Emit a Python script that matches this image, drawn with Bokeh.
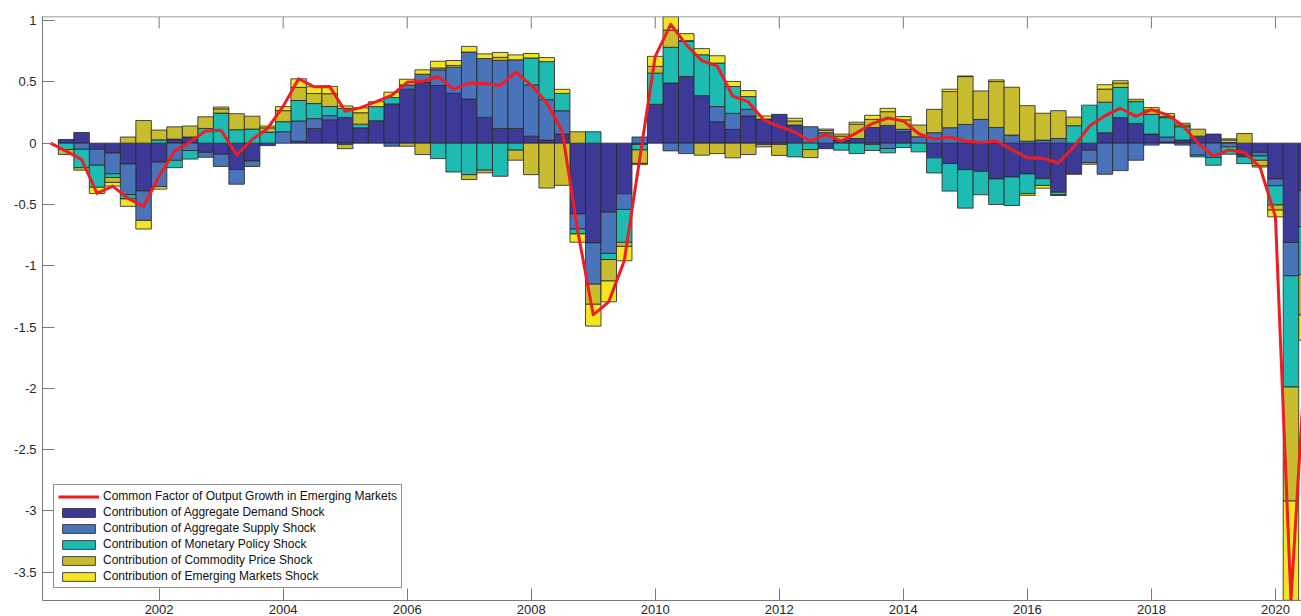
import numpy as np
from bokeh.plotting import figure
from bokeh.models import Range1d, FixedTicker, LinearAxis, Legend, LegendItem, Span
from bokeh.embed import file_html
from bokeh.resources import INLINE

# quarterly observations, 2000Q1 .. 2020Q2 (positioned at year + q/4)
n_quarters = 82
first_period = 2000.25
periods = [first_period + 0.25 * i for i in range(n_quarters)]

demand = [0, 0.03, 0.087, -0.05, -0.08, -0.17, -0.39, -0.155, 0.033, 0.05,
          -0.075, -0.09, -0.215, -0.145, -0.02, 0, 0.016, 0.12, 0.19, 0.21,
          0.125, 0.183, 0.32, 0.44, 0.495, 0.47, 0.407, 0.36, 0.21, 0.12,
          0.12, 0.057, 0.025, 0.074, -0.577, -0.814, -0.563, -0.413, -0.01, 0.317,
          0.49, 0.544, 0.388, 0.175, 0.112, 0.221, 0.197, 0.235, 0.148, 0,
          -0.045, 0.025, 0.038, 0.128, 0.145, 0.093, 0, -0.12, -0.167, -0.216,
          -0.23, -0.292, -0.276, -0.251, -0.29, -0.4, -0.254, -0.057, 0.085, 0.208,
          0.161, 0.074, 0.01, 0.025, 0.057, 0.074, 0.005, -0.098, -0.075, -0.292,
          -0.81, -0.387]
supply = [0, 0, -0.05, -0.13, -0.17, -0.25, -0.24, -0.2, -0.14, -0.06,
          -0.04, -0.1, -0.12, -0.045, 0, 0.093, 0.165, 0.08, 0.035, -0.01,
          0, 0, -0.025, 0.035, 0.068, 0.128, 0.213, 0.383, 0.48, 0.555,
          0.56, 0.418, 0.33, 0.19, -0.123, -0.336, -0.336, -0.128, 0.05, 0,
          -0.063, -0.085, 0, 0.123, 0.131, 0.055, -0.01, -0.01, 0, 0.134,
          0.085, 0, 0, -0.01, -0.044, 0.02, 0.052, 0.085, 0.126, 0.153,
          0.194, 0.128, 0.066, 0.016, 0.025, 0.038, 0, -0.101, -0.254, -0.224,
          -0.139, -0.016, 0.04, -0.016, -0.098, -0.117, -0.03, -0.014, -0.03, -0.055,
          -0.272, -0.295]
monetary = [0, -0.052, -0.15, -0.18, -0.03, -0.035, 0, 0.027, -0.06, -0.07,
            0.12, 0.245, 0.11, 0.115, 0.09, 0.082, 0.167, 0.123, 0.074, 0.074,
            0.03, 0.115, 0.052, 0, 0, -0.126, -0.235, -0.257, -0.22, -0.27,
            -0.057, 0.22, 0.31, 0.142, -0.04, 0.093, -0.05, -0.268, -0.045, 0.254,
            0.292, 0.287, 0.333, 0.355, 0.219, 0.104, 0, 0, -0.112, -0.052,
            0, -0.057, -0.085, -0.05, -0.035, -0.036, -0.071, -0.123, -0.224, -0.314,
            -0.191, -0.208, -0.232, -0.161, -0.055, -0.022, 0.142, 0.31, 0.249, 0.246,
            0.178, 0.161, 0.158, 0.109, -0.014, -0.063, -0.06, -0.055, -0.035, -0.158,
            -0.907, -0.392]
commodity = [0, -0.04, -0.02, 0, -0.04, 0.05, 0.185, 0.08, 0.1, 0.09,
             0.095, 0.035, 0.13, 0.105, 0.035, 0.09, 0.107, 0.082, 0.104, -0.035,
             0.093, 0, 0, -0.025, -0.093, 0.015, 0.014, -0.04, -0.022, 0.025,
             -0.082, -0.257, -0.366, -0.344, 0.093, -0.164, -0.175, -0.033, -0.11, 0.055,
             0.14, 0.005, -0.098, -0.085, -0.12, -0.093, -0.02, -0.09, 0.033, -0.066,
             0.02, 0.033, 0.117, 0.066, 0.112, 0.077, 0.096, 0.191, 0.295, 0.39,
             0.232, 0.374, 0.39, 0.29, 0.219, 0.227, 0.071, -0.014, 0.107, 0.036,
             0.019, 0.036, 0.011, 0.014, 0.057, 0, 0.022, 0.079, -0.045, -0.041,
             -0.93, -0.327]
em_shock = [0, 0, 0, -0.05, -0.03, -0.06, -0.07, -0.02, 0, 0,
            0, 0.015, 0, 0, 0.015, 0.033, 0.07, 0.055, 0.06, 0.02,
            0.04, 0.04, 0.044, 0.046, 0.035, 0.055, 0.04, 0.046, 0.038, 0.04,
            0.04, 0.036, 0.033, 0.033, -0.068, -0.178, -0.17, -0.117, -0.01, 0.082,
            0.11, 0.057, 0.05, 0.06, 0.041, 0.049, 0.025, 0, 0.022, 0,
            0.01, 0.016, 0.016, 0.033, 0.027, 0.027, 0, 0, 0.019, 0.005,
            0, 0.014, 0, -0.014, -0.022, -0.005, 0, 0, 0.036, 0.019,
            0, 0.019, 0.022, 0.014, 0, 0, 0.008, 0, -0.01, -0.055,
            -0.81, -0.207]
common_factor = [0, -0.065, -0.133, -0.41, -0.35, -0.45, -0.515, -0.27, -0.065, 0.01,
                 0.10, 0.105, -0.095, 0.03, 0.12, 0.30, 0.525, 0.46, 0.463, 0.26,
                 0.29, 0.338, 0.39, 0.496, 0.505, 0.542, 0.44, 0.49, 0.486, 0.47,
                 0.58, 0.474, 0.332, 0.095, -0.715, -1.40, -1.294, -0.96, -0.125, 0.708,
                 0.969, 0.803, 0.673, 0.628, 0.383, 0.336, 0.19, 0.135, 0.091, 0.016,
                 0.07, 0.017, 0.086, 0.16, 0.205, 0.181, 0.077, 0.033, 0.049, 0.018,
                 0.005, 0.016, -0.052, -0.12, -0.123, -0.162, -0.03, 0.138, 0.223, 0.285,
                 0.219, 0.274, 0.233, 0.146, 0.002, -0.106, -0.055, -0.075, -0.195, -0.6,
                 -3.73, -1.61]

series_names = ["Contribution of Aggregate Demand Shock",
                "Contribution of Aggregate Supply Shock",
                "Contribution of Monetary Policy Shock",
                "Contribution of Commodity Price Shock",
                "Contribution of Emerging Markets Shock"]
series_colors = ["#3d3996", "#4a74ba", "#1dbbb1", "#c9bd2f", "#f3e521"]
line_name = "Common Factor of Output Growth in Emerging Markets"

x_ticks = [2002, 2004, 2006, 2008, 2010, 2012, 2014, 2016, 2018, 2020]
y_ticks = [-3.5, -3, -2.5, -2, -1.5, -1, -0.5, 0, 0.5, 1]
y_tick_labels = ["-3.5", "-3", "-2.5", "-2", "-1.5", "-1", "-0.5", "0", "0.5", "1"]
x_lo, x_hi = 2000.12, 2020.42
y_lo, y_hi = -3.73, 1.033

FONT = "Liberation Sans"
AXIS_COLOR = "#7a7a7a"
TEXT_COLOR = "#262626"

p = figure(width=1301, height=616, output_backend="svg", toolbar_location=None,
           x_range=Range1d(x_lo, x_hi), y_range=Range1d(y_lo, y_hi),
           min_border_left=42, min_border_right=0, min_border_top=16, min_border_bottom=0,
           x_axis_location=None, y_axis_location=None)
p.grid.visible = False
p.outline_line_color = None
p.background_fill_color = "white"

x = np.array(periods)
pos_base = np.zeros(n_quarters)
neg_base = np.zeros(n_quarters)
legend_renderers = []
for vals, color in zip([demand, supply, monetary, commodity, em_shock], series_colors):
    v = np.array(vals, dtype=float)
    pos = np.where(v > 0, v, 0.0)
    neg = np.where(v < 0, v, 0.0)
    mp = pos > 0
    mn = neg < 0
    rp = p.vbar(x=x[mp], width=0.25, bottom=pos_base[mp], top=(pos_base + pos)[mp],
                fill_color=color, line_color="#2a2a2a", line_width=1, line_alpha=0.85)
    p.vbar(x=x[mn], width=0.25, top=neg_base[mn], bottom=(neg_base + neg)[mn],
           fill_color=color, line_color="#2a2a2a", line_width=1, line_alpha=0.85)
    legend_renderers.append(rp)
    pos_base = pos_base + pos
    neg_base = neg_base + neg

rl = p.line(x, common_factor, line_color="#ee1d24", line_width=3, line_join="round")

# top frame edge with inward ticks (box on)
p.add_layout(Span(location=y_hi, dimension="width", line_color=AXIS_COLOR, line_width=1.5))
p.ray(x=x_ticks, y=[y_hi] * len(x_ticks), length=12, length_units="screen",
      angle=-np.pi / 2, line_color=AXIS_COLOR, line_width=1)

def style_axis(ax):
    ax.axis_line_color = AXIS_COLOR
    ax.major_tick_line_color = AXIS_COLOR
    ax.minor_tick_line_color = None
    ax.major_tick_in = 12
    ax.major_tick_out = 0
    ax.major_label_text_font = FONT
    ax.major_label_text_font_size = "13px"
    ax.major_label_text_color = TEXT_COLOR

xax = LinearAxis(ticker=FixedTicker(ticks=x_ticks))
style_axis(xax)
xax.major_label_standoff = 4
p.add_layout(xax, "below")

yax = LinearAxis(ticker=FixedTicker(ticks=y_ticks))
style_axis(yax)
yax.major_label_standoff = 6
yax.major_label_overrides = {t: s for t, s in zip(y_ticks, y_tick_labels)}
p.add_layout(yax, "left")

items = [LegendItem(label=line_name, renderers=[rl])]
for name, r in zip(series_names, legend_renderers):
    items.append(LegendItem(label=name, renderers=[r]))
legend = Legend(items=items, location=(11, 12), orientation="vertical",
                label_text_font=FONT, label_text_font_size="12px", label_text_color="#111111",
                glyph_width=41, glyph_height=11, label_height=13, spacing=2,
                padding=4, margin=0, label_standoff=4,
                border_line_color="#222222", border_line_width=1,
                background_fill_color="white", background_fill_alpha=1)
p.add_layout(legend, "center")

open("out.html", "w").write(file_html(p, INLINE))
